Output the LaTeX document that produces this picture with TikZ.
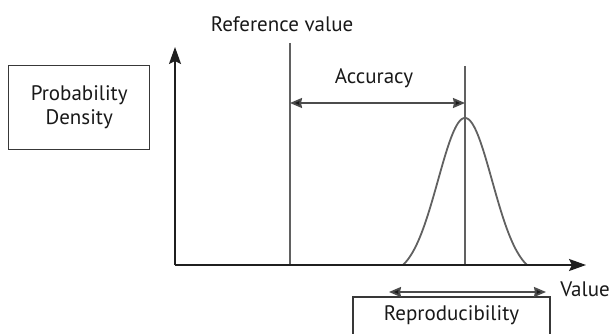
\documentclass[tikz,border=0pt]{standalone}
\usepackage{fontspec}
\setmainfont{PT Sans}
\usetikzlibrary{arrows.meta}
\begin{document}
\begin{tikzpicture}[x=1pt,y=1pt,
  lbl/.style={inner sep=0pt, font=\fontsize{21}{24}\selectfont, text=black!90},
  axis/.style={line width=2pt, draw=black!88, -{Stealth[length=17pt,width=12pt,inset=3pt]}},
  vline/.style={line width=2pt, draw=black!62},
  dimarrow/.style={line width=1.8pt, draw=black!70, {Stealth[length=12pt,width=10pt,inset=1pt,fill=black!90]}-{Stealth[length=12pt,width=10pt,inset=1pt,fill=black!90]}},
  boxstyle/.style={line width=1.4pt, draw=black!78},
  curve/.style={line width=1.8pt, draw=black!62}]
\useasboundingbox (0,0) rectangle (612,-334);
\clip (0,0) rectangle (612,-334);
% coordinates
\coordinate (O) at (175,-265);
\coordinate (Ytop) at (175,-47);
\coordinate (Xend) at (586,-265);
\coordinate (Rtop) at (290,-43);
\coordinate (Rbot) at (290,-265);
\coordinate (Ctop) at (465,-66);
\coordinate (Cbot) at (465,-265);
\coordinate (Aleft) at (290,-103);
\coordinate (Aright) at (465,-103);
\coordinate (Pleft) at (389,-292);
\coordinate (Pright) at (546,-292);
% box
\node[boxstyle, draw, minimum width=141pt, minimum height=84pt, inner sep=0pt, anchor=north west] (pdbox) at (8,-65) {};
\node[lbl, align=center] (pd) at (pdbox.center) {Probability\\Density};
\draw[boxstyle] (353,-345) |- (550,-297) -- (550,-345);
\node[lbl] (repro) at (451.5,-315) {Reproducibility};
% lines
\draw[vline] (Rtop) -- (Rbot);
\draw[vline] (Ctop) -- (Cbot);
% gaussian
\draw[curve, domain=-62:62, samples=120, smooth]
  plot ({465+\x}, {-265 + 147*(exp(-(\x*\x)/(2*27*27)) - 0.0716)/(1-0.0716)});
% axes
\draw[axis] (O) -- (Ytop);
\draw[axis] (O) -- (Xend);
% dimension arrows
\draw[dimarrow] (Aleft) -- (Aright);
\draw[dimarrow] (Pleft) -- (Pright);
% labels
\node[lbl] (refv) at (282,-24) {Reference value};
\node[lbl] (acc) at (374,-78) {Accuracy};
\node[lbl] (val) at (585,-289) {Value};
\end{tikzpicture}
\end{document}
